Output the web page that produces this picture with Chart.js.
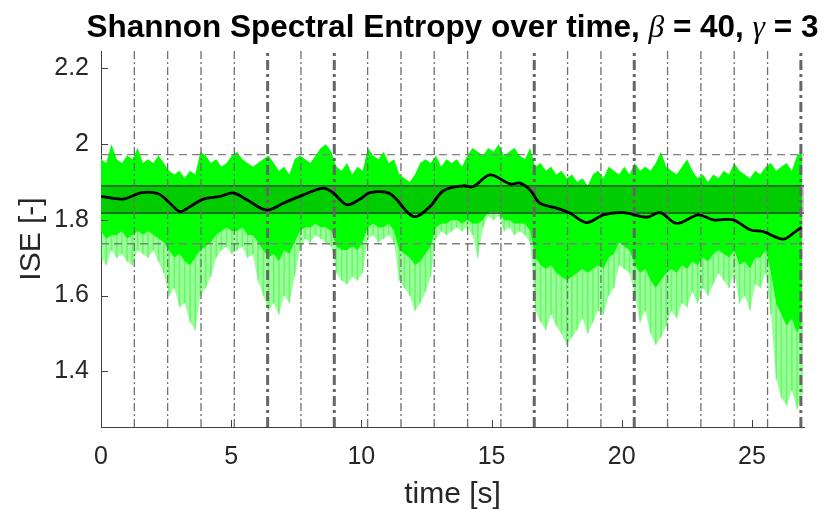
<!DOCTYPE html>
<html>
<head>
<meta charset="utf-8">
<script src="https://cdn.jsdelivr.net/npm/chart.js@4.4.1/dist/chart.umd.min.js"></script>
<style>
  html, body { margin: 0; padding: 0; background: #fff; }
  #wrap { width: 824px; height: 510px; }
</style>
</head>
<body>
<div id="wrap"><canvas id="entropyChart" width="824" height="510"></canvas></div>
<script>
// raw ISE signal on a 0.2 s grid (upper edge, dense lower edge, spike tips)
const sampleStep = 0.201;
const upperEnvelope = [
  1.96, 1.95, 2.00, 1.96, 1.95, 1.97, 1.96, 1.99, 1.95, 1.96,
  1.95, 1.97, 1.95, 1.93, 1.92, 1.93, 1.91, 1.93, 1.92, 1.98,
  1.97, 1.95, 1.96, 1.94, 1.95, 1.97, 1.98, 1.96, 1.95, 1.94,
  1.95, 1.96, 1.97, 1.95, 1.93, 1.94, 1.92, 1.96, 1.97, 1.96,
  1.95, 1.97, 1.99, 2.00, 1.98, 1.94, 1.93, 1.95, 1.92, 1.94,
  1.93, 1.99, 1.97, 1.96, 1.98, 1.95, 1.96, 1.92, 1.91, 1.90,
  1.92, 1.95, 1.96, 1.95, 1.97, 1.94, 1.96, 1.95, 1.96, 1.94,
  1.97, 1.99, 1.98, 1.97, 1.99, 1.98, 2.00, 1.97, 1.98, 1.99,
  1.97, 1.96, 1.99, 1.94, 1.95, 1.93, 1.94, 1.92, 1.93, 1.91,
  1.92, 1.90, 1.91, 1.89, 1.92, 1.93, 1.91, 1.94, 1.93, 1.92,
  1.94, 1.92, 1.95, 1.93, 1.94, 1.93, 1.95, 1.98, 1.94, 1.93,
  1.92, 1.94, 1.96, 1.93, 1.91, 1.92, 1.90, 1.92, 1.91, 1.93,
  1.92, 1.95, 1.93, 1.92, 1.91, 1.93, 1.92, 1.94, 1.95, 1.93,
  1.94, 1.95, 1.93, 1.97, 1.98
];
const lowerDense = [
  1.77, 1.75, 1.76, 1.76, 1.77, 1.75, 1.76, 1.77, 1.76, 1.77,
  1.76, 1.75, 1.74, 1.72, 1.70, 1.71, 1.69, 1.68, 1.70, 1.72,
  1.73, 1.74, 1.76, 1.77, 1.78, 1.77, 1.77, 1.78, 1.76, 1.76,
  1.74, 1.72, 1.70, 1.71, 1.69, 1.72, 1.71, 1.74, 1.77, 1.78,
  1.78, 1.79, 1.78, 1.78, 1.77, 1.73, 1.72, 1.72, 1.73, 1.72,
  1.74, 1.78, 1.79, 1.78, 1.78, 1.79, 1.77, 1.72, 1.71, 1.70,
  1.68, 1.69, 1.71, 1.73, 1.78, 1.79, 1.79, 1.80, 1.80, 1.79,
  1.80, 1.79, 1.79, 1.80, 1.82, 1.82, 1.82, 1.80, 1.80, 1.79,
  1.79, 1.79, 1.77, 1.70, 1.68, 1.67, 1.68, 1.66, 1.65, 1.64,
  1.65, 1.66, 1.67, 1.66, 1.67, 1.68, 1.67, 1.70, 1.71, 1.74,
  1.73, 1.72, 1.68, 1.66, 1.67, 1.64, 1.62, 1.64, 1.66, 1.67,
  1.66, 1.68, 1.67, 1.69, 1.68, 1.70, 1.69, 1.71, 1.72, 1.71,
  1.70, 1.72, 1.68, 1.69, 1.67, 1.70, 1.70, 1.72, 1.66, 1.58,
  1.55, 1.52, 1.54, 1.50, 1.53
];
const lowerSpikes = [
  1.70, 1.68, 1.72, 1.70, 1.71, 1.69, 1.68, 1.72, 1.71, 1.70,
  1.72, 1.69, 1.66, 1.60, 1.62, 1.57, 1.58, 1.53, 1.51, 1.60,
  1.62, 1.65, 1.70, 1.72, 1.73, 1.71, 1.72, 1.73, 1.70, 1.71,
  1.64, 1.60, 1.56, 1.58, 1.55, 1.60, 1.58, 1.65, 1.72, 1.75,
  1.74, 1.76, 1.75, 1.74, 1.73, 1.66, 1.64, 1.63, 1.65, 1.64,
  1.66, 1.75, 1.76, 1.74, 1.75, 1.76, 1.74, 1.64, 1.62, 1.60,
  1.56, 1.58, 1.61, 1.65, 1.75, 1.77, 1.76, 1.77, 1.78, 1.77,
  1.78, 1.76, 1.70, 1.78, 1.81, 1.80, 1.81, 1.77, 1.78, 1.76,
  1.77, 1.76, 1.74, 1.56, 1.53, 1.51, 1.55, 1.52, 1.50, 1.47,
  1.49, 1.51, 1.54, 1.50, 1.53, 1.56, 1.55, 1.60, 1.62, 1.68,
  1.67, 1.66, 1.60, 1.53, 1.56, 1.50, 1.47, 1.49, 1.52, 1.56,
  1.54, 1.58, 1.57, 1.61, 1.58, 1.62, 1.60, 1.63, 1.66, 1.64,
  1.62, 1.66, 1.58, 1.60, 1.56, 1.63, 1.62, 1.66, 1.55, 1.38,
  1.33, 1.31, 1.35, 1.30, 1.34
];

// smoothed ISE (black curve)
const smoothTimes = [0, 0.86, 1.56, 2.2, 2.65, 3.03, 3.42, 3.93, 4.57, 5.08, 5.6, 6.36, 7.0, 7.77, 8.54, 8.92, 9.44, 9.95, 10.33, 11.1, 12.0, 12.63, 13.15, 13.91, 14.3, 14.94, 15.71, 16.1, 16.48, 16.86, 17.5, 18.0, 18.65, 19.29, 20.06, 20.96, 21.47, 22.11, 22.94, 23.51, 24.28, 24.92, 25.43, 26.2, 26.59, 26.91];
const smoothValues = [1.862, 1.855, 1.872, 1.869, 1.844, 1.822, 1.835, 1.855, 1.862, 1.871, 1.853, 1.826, 1.844, 1.866, 1.884, 1.871, 1.840, 1.855, 1.872, 1.869, 1.809, 1.835, 1.877, 1.890, 1.888, 1.919, 1.895, 1.897, 1.879, 1.844, 1.831, 1.818, 1.793, 1.813, 1.819, 1.807, 1.819, 1.791, 1.813, 1.800, 1.800, 1.774, 1.769, 1.749, 1.765, 1.781];

// reference levels
const bandLevels = [1.890, 1.818];
const limitLevels = [1.9725, 1.737];

// event markers
const minorEvents = [1.28, 2.56, 3.84, 5.12, 7.68, 10.24, 11.52, 12.80, 14.08, 15.36, 17.92, 19.20, 21.76, 23.04, 24.32, 25.60];
const majorEvents = [6.40, 8.96, 16.64, 20.48, 26.88];

const xTicks = [0, 5, 10, 15, 20, 25];
const yTicks = [1.4, 1.6, 1.8, 2, 2.2];
const yTickLabels = ['1.4', '1.6', '1.8', '2', '2.2'];
const xMin = 0, xMax = 27.0;
const yMin = 1.253, yMax = 2.246;

const sampleTimes = upperEnvelope.map((_, i) => +(i * sampleStep).toFixed(3));
const toPoints = arr => arr.map((v, i) => ({ x: sampleTimes[i], y: v }));
const hline = v => [{ x: xMin, y: v }, { x: xMax, y: v }];
const vline = t => [{ x: t, y: yMin }, { x: t, y: yMax }];

const datasets = [];
datasets.push({ data: toPoints(upperEnvelope), borderWidth: 0, pointRadius: 0, fill: '+1', backgroundColor: '#00ff00', order: 20 });
datasets.push({ data: toPoints(lowerDense), borderWidth: 0, pointRadius: 0, fill: '+1', backgroundColor: 'rgba(0,255,0,0.4)', order: 20 });
datasets.push({ data: toPoints(lowerSpikes), borderWidth: 0, pointRadius: 0, fill: false, order: 20 });
// faint streaks in the sparse part
datasets.push({
  type: 'bar',
  data: sampleTimes.map((t, i) => ({ x: t, y: [lowerSpikes[i], lowerDense[i]] })),
  backgroundColor: 'rgba(0,230,0,0.3)', barThickness: 1, grouped: false, order: 19
});

datasets.push({ data: hline(bandLevels[0]), borderColor: '#333', borderWidth: 1.2, pointRadius: 0, fill: '+1', backgroundColor: 'rgba(0,0,0,0.2)', order: 10 });
datasets.push({ data: hline(bandLevels[1]), borderColor: '#333', borderWidth: 1.2, pointRadius: 0, fill: false, order: 10 });
limitLevels.forEach(v => {
  datasets.push({ data: hline(v), borderColor: '#808080', borderWidth: 1.3, borderDash: [8, 5], pointRadius: 0, fill: false, order: 9 });
});
minorEvents.forEach(t => {
  datasets.push({ data: vline(t), borderColor: '#707070', borderWidth: 1.3, borderDash: [8, 3, 2, 3], pointRadius: 0, fill: false, order: 8 });
});
majorEvents.forEach(t => {
  datasets.push({ data: vline(t), borderColor: '#666', borderWidth: 3, borderDash: [10, 4, 3, 4], pointRadius: 0, fill: false, order: 7 });
});
datasets.push({
  data: smoothTimes.map((t, i) => ({ x: t, y: smoothValues[i] })),
  borderColor: '#000', borderWidth: 2.8, pointRadius: 0, tension: 0.35, fill: false, order: 0
});

const sansFont = '"Liberation Sans", Arial, Helvetica, sans-serif';

// MATLAB style: tick marks point into the axes
const innerTicks = {
  id: 'innerTicks',
  afterDraw(chart) {
    const { ctx, chartArea: a, scales: { x, y } } = chart;
    ctx.save();
    ctx.strokeStyle = '#404040';
    ctx.lineWidth = 1;
    xTicks.forEach(v => {
      const px = Math.round(x.getPixelForValue(v)) + 0.5;
      ctx.beginPath(); ctx.moveTo(px, a.bottom); ctx.lineTo(px, a.bottom - 7); ctx.stroke();
    });
    yTicks.forEach(v => {
      const py = Math.round(y.getPixelForValue(v)) + 0.5;
      ctx.beginPath(); ctx.moveTo(a.left, py); ctx.lineTo(a.left + 7, py); ctx.stroke();
    });
    ctx.restore();
  }
};

// title with italic greek letters
const mixedTitle = {
  id: 'mixedTitle',
  afterDraw(chart) {
    const { ctx, chartArea: a } = chart;
    const bold = 'bold 31.5px ' + sansFont;
    const ital = 'italic 31.5px "Liberation Serif", "DejaVu Serif", serif';
    const parts = [
      ['Shannon Spectral Entropy over time, ', bold],
      ['\u03b2', ital],
      [' = 40, ', bold],
      ['\u03b3', ital],
      [' = 3', bold]
    ];
    ctx.save();
    let total = 0;
    parts.forEach(p => { ctx.font = p[1]; total += ctx.measureText(p[0]).width; });
    let xPos = (a.left + a.right) / 2 - total / 2;
    ctx.fillStyle = '#000';
    ctx.textBaseline = 'alphabetic';
    parts.forEach(p => {
      ctx.font = p[1];
      ctx.fillText(p[0], xPos, 37);
      xPos += ctx.measureText(p[0]).width;
    });
    ctx.restore();
  }
};

new Chart(document.getElementById('entropyChart'), {
  type: 'line',
  data: { datasets },
  options: {
    responsive: false,
    animation: false,
    events: [],
    layout: { padding: { top: 51, right: 20, left: 0, bottom: 0 } },
    plugins: { legend: { display: false }, tooltip: { enabled: false }, title: { display: false } },
    scales: {
      x: {
        type: 'linear', min: xMin, max: xMax, offset: false,
        afterFit: s => { s.height = 83; },
        afterBuildTicks: s => { s.ticks = xTicks.map(v => ({ value: v })); },
        grid: { display: false, drawTicks: false },
        border: { display: true, color: '#404040', width: 1 },
        ticks: { color: '#262626', font: { family: sansFont, size: 25 }, padding: 15, maxRotation: 0 },
        title: { display: true, text: 'time [s]', color: '#262626', font: { family: sansFont, size: 30, lineHeight: 1 }, padding: { top: 0, bottom: 0 } }
      },
      y: {
        type: 'linear', min: yMin, max: yMax,
        afterFit: s => { s.width = 101; },
        afterBuildTicks: s => { s.ticks = yTicks.map(v => ({ value: v })); },
        grid: { display: false, drawTicks: false },
        border: { display: true, color: '#404040', width: 1 },
        ticks: { color: '#262626', font: { family: sansFont, size: 25 }, padding: 12, callback: v => yTickLabels[yTicks.indexOf(+v.toFixed(1))] },
        title: { display: true, text: 'ISE [-]', color: '#262626', font: { family: sansFont, size: 30, lineHeight: 1 }, padding: { top: 17, bottom: 0 } }
      }
    }
  },
  plugins: [innerTicks, mixedTitle]
});
</script>
</body>
</html>
